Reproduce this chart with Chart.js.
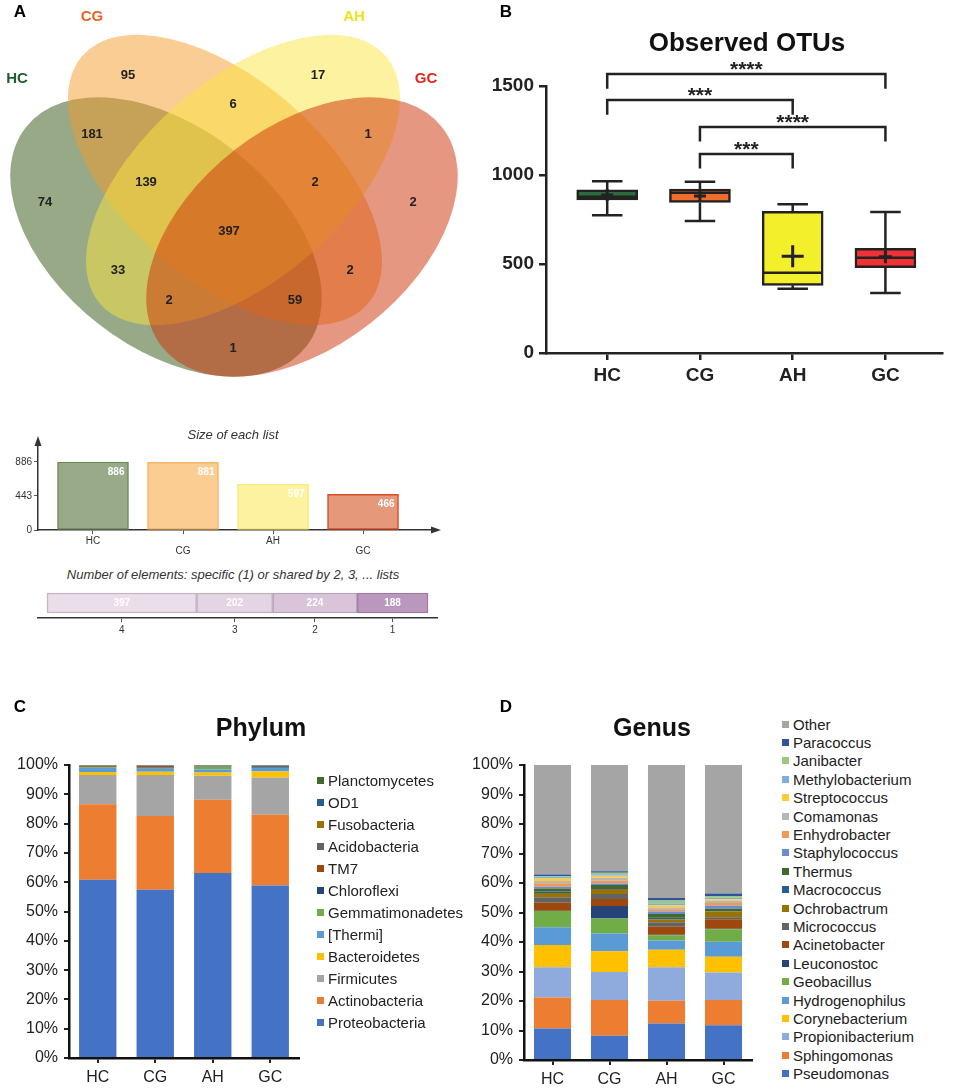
<!DOCTYPE html>
<html>
<head>
<meta charset="utf-8">
<script src="https://cdn.jsdelivr.net/npm/chart.js@4.4.0/dist/chart.umd.min.js"></script>
<style>
  body { margin: 0; background: #fff; font-family: "Liberation Sans", Arial, sans-serif; }
  #page { position: relative; width: 956px; height: 1091px; overflow: hidden; }
  canvas { position: absolute; }
  .txt { position: absolute; white-space: nowrap; transform: translate(-50%, -50%); line-height: 1; }
  .letter { font-weight: bold; font-size: 17px; color: #000; }
  .title { font-weight: bold; font-size: 25px; color: #111; }
  .sub { font-style: italic; font-size: 13px; color: #333; }
  .legend { position: absolute; font-size: 15px; color: #222; }
  .legend div { display: flex; align-items: center; white-space: nowrap; }
  .legend span { display: inline-block; width: 7px; height: 7px; margin-right: 4px; }
</style>
</head>
<body>
<div id="page">
  <canvas id="venn" width="480" height="385" style="left:0;top:0"></canvas>
  <canvas id="sizes" width="480" height="130" style="left:0;top:430px"></canvas>
  <canvas id="shared" width="480" height="55" style="left:0;top:583px"></canvas>
  <canvas id="otu" width="476" height="400" style="left:480px;top:0"></canvas>
  <canvas id="phylum" width="320" height="400" style="left:0;top:690px"></canvas>
  <canvas id="genus" width="290" height="400" style="left:470px;top:690px"></canvas>

  <div class="txt letter" style="left:20px;top:11px">A</div>
  <div class="txt letter" style="left:506px;top:11px">B</div>
  <div class="txt letter" style="left:20px;top:706px">C</div>
  <div class="txt letter" style="left:506px;top:706px">D</div>
  <div class="txt title" style="left:747px;top:42px;font-size:26px">Observed OTUs</div>
  <div class="txt title" style="left:261px;top:727px">Phylum</div>
  <div class="txt title" style="left:652px;top:727px">Genus</div>
  <div class="txt sub" style="left:233px;top:434px">Size of each list</div>
  <div class="txt sub" style="left:233px;top:574px">Number of elements: specific (1) or shared by 2, 3, ... lists</div>
  <div id="legendC" class="legend" style="left:317px;top:769px"></div>
  <div id="legendD" class="legend" style="left:782px;top:715px"></div>
</div>
<script>
// ---- data ----
const groups = ['HC', 'CG', 'AH', 'GC'];

// Venn: one count per region (membership in comments)
const vennRegions = ['CG', 'AH', 'CG&AH', 'HC&CG', 'AH&GC', 'HC&CG&AH', 'CG&AH&GC', 'HC', 'GC',
  'HC&CG&AH&GC', 'HC&AH', 'CG&GC', 'HC&AH&GC', 'HC&CG&GC', 'HC&GC'];
const vennCounts = [95, 17, 6, 181, 1, 139, 2, 74, 2, 397, 33, 2, 2, 59, 1];

const listSizes = [886, 881, 597, 466];
const sharedBy = ['4', '3', '2', '1'];
const sharedCounts = [397, 202, 224, 188];

// Observed OTUs box plot
const otuMin = [774, 742, 361, 337];
const otuQ1 = [860, 846, 380, 479];
const otuMedian = [878, 900, 451, 535];
const otuQ3 = [916, 921, 796, 588];
const otuMax = [965, 962, 835, 792];
const otuMean = [887, 882, 543, 541];
const sigPairs = [[0, 3], [0, 2], [1, 3], [1, 2]];
const sigLabels = ['****', '***', '****', '***'];
const sigLevels = [1567, 1421, 1270, 1118];

// Phylum (% per group, bottom to top)
const phyla = ['Proteobacteria', 'Actinobacteria', 'Firmicutes', 'Bacteroidetes', '[Thermi]', 'Gemmatimonadetes',
  'Chloroflexi', 'TM7', 'Acidobacteria', 'Fusobacteria', 'OD1', 'Planctomycetes'];
const phylumHC = [60.8, 25.8, 10.0, 1.0, 1.4, 0.2, 0.2, 0.3, 0.1, 0.1, 0.1, 0.0];
const phylumCG = [57.4, 25.2, 14.0, 1.1, 1.0, 0.1, 0.2, 0.2, 0.6, 0.1, 0.1, 0.0];
const phylumAH = [63.1, 25.0, 8.2, 1.1, 1.1, 0.9, 0.2, 0.1, 0.1, 0.1, 0.1, 0.0];
const phylumGC = [58.9, 24.1, 12.7, 2.1, 1.2, 0.1, 0.5, 0.1, 0.1, 0.1, 0.1, 0.0];

// Genus (% per group, bottom to top)
const genera = ['Pseudomonas', 'Sphingomonas', 'Propionibacterium', 'Corynebacterium', 'Hydrogenophilus',
  'Geobacillus', 'Leuconostoc', 'Acinetobacter', 'Micrococcus', 'Ochrobactrum', 'Macrococcus', 'Thermus',
  'Staphylococcus', 'Enhydrobacter', 'Comamonas', 'Streptococcus', 'Methylobacterium', 'Janibacter',
  'Paracoccus', 'Other'];
const genusHC = [10.7, 10.5, 10.2, 7.6, 6.0, 5.5, 0.1, 2.7, 1.9, 1.4, 0.5, 1.0, 0.6, 1.2, 0.8, 0.8, 0.6, 0.3, 0.5, 37.1];
const genusCG = [8.2, 12.1, 9.5, 7.1, 6.0, 5.1, 4.2, 2.4, 1.7, 1.7, 0.3, 1.0, 0.5, 1.0, 1.0, 0.7, 0.5, 0.5, 0.5, 36.0];
const genusAH = [12.4, 7.7, 11.3, 6.0, 3.1, 1.8, 0.2, 2.7, 1.5, 1.0, 0.5, 1.3, 0.8, 0.8, 0.6, 0.8, 0.6, 1.0, 0.8, 45.1];
const genusGC = [11.8, 8.5, 9.4, 5.3, 5.1, 4.2, 0.2, 3.2, 0.7, 1.9, 0.2, 0.8, 1.0, 0.9, 0.8, 0.5, 0.5, 0.6, 0.8, 43.6];

// ---- layout / styles ----
const vennShapes = [
  { cx: 166, cy: 237, rx: 178, ry: 110, rot: 38, color: 'rgba(49,83,17,0.5)' },
  { cx: 225, cy: 180, rx: 189, ry: 100, rot: 41, color: 'rgba(243,155,39,0.5)' },
  { cx: 243, cy: 180, rx: 189, ry: 100, rot: -41, color: 'rgba(251,229,65,0.5)' },
  { cx: 302, cy: 237, rx: 178, ry: 110, rot: -38, color: 'rgba(205,47,5,0.5)' }
];
const vennCountPos = [[128, 75], [318, 75], [233, 104], [92, 134], [368, 134], [146, 182], [315, 182], [45, 202],
  [413, 202], [229, 231], [118, 270], [350, 270], [169, 300], [295, 300], [233, 348]];
const vennSetPos = [[17, 79], [92, 17], [354, 17], [426, 79]];
const vennSetColors = ['#1d5e2a', '#f05d23', '#eee21c', '#e8231e'];

const sizeFill = ['#98aa87', '#fbcd93', '#fcf2a0', '#e6987a'];
const sizeLine = ['#6d8a5c', '#f6b466', '#f7e97a', '#dc4a24'];
const sharedFill = ['#eadeea', '#e3d5e3', '#d9c4da', '#ba97bc'];
const sharedLine = ['#c4b4c4', '#c0b0c0', '#b8a4b8', '#9c7a9e'];
const boxColors = ['#2e6b3c', '#f06d2c', '#f4ef2b', '#ee3237'];
const meanSize = [6, 6, 11, 6.5];
const BRACKET_DROP = 82;

const phylumColors = ['#4472c4', '#ed7d31', '#a5a5a5', '#ffc000', '#5b9bd5', '#70ad47', '#264478', '#9e480e',
  '#636363', '#997300', '#255e91', '#43682b'];
const genusColors = ['#4472c4', '#ed7d31', '#8faadc', '#ffc000', '#5b9bd5', '#70ad47', '#264478', '#9e480e',
  '#636363', '#997300', '#255e91', '#43682b', '#698ed0', '#f1975a', '#b7b7b7', '#ffcd33', '#7cafdd', '#9cc97f',
  '#2f5597', '#a5a5a5'];

const FONT = '"Liberation Sans", Arial, sans-serif';
Chart.defaults.font.family = FONT;

const common = {
  responsive: false,
  animation: false,
  events: [],
  plugins: { legend: { display: false }, tooltip: { enabled: false } }
};

// ---- Venn diagram ----
const vennPlugin = {
  id: 'venn',
  beforeDatasetsDraw(chart) {
    const { ctx, scales: { x, y } } = chart;
    vennShapes.forEach(s => {
      const cx = x.getPixelForValue(s.cx), cy = y.getPixelForValue(s.cy);
      const rx = Math.abs(x.getPixelForValue(s.cx + s.rx) - cx);
      const ry = Math.abs(y.getPixelForValue(s.cy + s.ry) - cy);
      ctx.save();
      ctx.fillStyle = s.color;
      ctx.beginPath();
      ctx.ellipse(cx, cy, rx, ry, s.rot * Math.PI / 180, 0, Math.PI * 2);
      ctx.fill();
      ctx.restore();
    });
  },
  afterDatasetsDraw(chart) {
    const { ctx, scales: { x, y } } = chart;
    ctx.save();
    ctx.textAlign = 'center';
    ctx.textBaseline = 'middle';
    ctx.font = 'bold 13px ' + FONT;
    ctx.fillStyle = '#222';
    chart.getDatasetMeta(0).data.forEach((pt, i) => {
      ctx.fillText(String(vennCounts[i]), pt.x, pt.y);
    });
    ctx.font = 'bold 15px ' + FONT;
    groups.forEach((g, i) => {
      ctx.fillStyle = vennSetColors[i];
      ctx.fillText(g, x.getPixelForValue(vennSetPos[i][0]), y.getPixelForValue(vennSetPos[i][1]));
    });
    ctx.restore();
  }
};

new Chart(document.getElementById('venn'), {
  type: 'scatter',
  data: { datasets: [{ data: vennCountPos.map((p, i) => ({ x: p[0], y: p[1], region: vennRegions[i] })), pointRadius: 0 }] },
  options: {
    ...common,
    layout: { padding: 0 },
    scales: {
      x: { type: 'linear', min: 0, max: 480, display: false },
      y: { type: 'linear', min: 0, max: 385, reverse: true, display: false }
    }
  },
  plugins: [vennPlugin]
});

// ---- Size of each list ----
const sizePlugin = {
  id: 'sizeLabels',
  afterDatasetsDraw(chart) {
    const { ctx, chartArea: a } = chart;
    ctx.save();
    ctx.font = 'bold 10px ' + FONT;
    ctx.fillStyle = '#fff';
    ctx.textAlign = 'right';
    ctx.textBaseline = 'middle';
    chart.getDatasetMeta(0).data.forEach((bar, i) => {
      ctx.fillText(String(listSizes[i]), bar.x + bar.width / 2 - 4, bar.y + 10);
    });
    // arrow heads
    ctx.fillStyle = '#333';
    ctx.beginPath();
    ctx.moveTo(a.left, a.top - 4); ctx.lineTo(a.left - 3.5, a.top + 6); ctx.lineTo(a.left + 3.5, a.top + 6);
    ctx.fill();
    ctx.beginPath();
    ctx.moveTo(a.right + 4, a.bottom); ctx.lineTo(a.right - 6, a.bottom - 3.5); ctx.lineTo(a.right - 6, a.bottom + 3.5);
    ctx.fill();
    ctx.restore();
  }
};

new Chart(document.getElementById('sizes'), {
  type: 'bar',
  data: {
    datasets: [{
      data: listSizes.map((v, i) => ({ x: i, y: v })),
      backgroundColor: sizeFill, borderColor: sizeLine, borderWidth: 1.5, borderSkipped: false, barThickness: 71
    }]
  },
  options: {
    ...common,
    layout: { padding: { top: 10, right: 43, left: 0, bottom: 0 } },
    scales: {
      x: {
        type: 'linear', min: -0.611, max: 3.822, offset: false,
        afterBuildTicks: s => { s.ticks = groups.map((g, i) => ({ value: i })); },
        afterFit: s => { s.height = 30; },
        ticks: { callback: v => (v % 2 ? ['', groups[v]] : groups[v]), font: { size: 10, lineHeight: 1 }, color: '#333', padding: 2, maxRotation: 0, autoSkip: false },
        grid: { display: true, drawOnChartArea: false, tickLength: 4, color: '#555', offset: false },
        border: { color: '#333', width: 1.5 }
      },
      y: {
        min: 0, max: 1172,
        afterBuildTicks: s => { const m = Math.max(...listSizes); s.ticks = [0, m / 2, m].map(v => ({ value: v })); },
        afterFit: s => { s.width = 38; },
        ticks: { callback: v => String(v), font: { size: 10 }, color: '#333', padding: 2 },
        grid: { drawOnChartArea: false, tickLength: 4, color: '#555' },
        border: { color: '#333', width: 1.5 }
      }
    }
  },
  plugins: [sizePlugin]
});

// ---- shared by n lists ----
const sharedPlugin = {
  id: 'sharedLabels',
  afterDatasetsDraw(chart) {
    const { ctx } = chart;
    ctx.save();
    ctx.font = 'bold 10px ' + FONT;
    ctx.fillStyle = '#fff';
    ctx.textAlign = 'center';
    ctx.textBaseline = 'middle';
    chart.data.datasets.forEach((ds, i) => {
      const bar = chart.getDatasetMeta(i).data[0];
      ctx.fillText(String(sharedCounts[i]), (bar.x + bar.base) / 2, bar.y);
    });
    ctx.restore();
  }
};

new Chart(document.getElementById('shared'), {
  type: 'bar',
  data: {
    labels: [''],
    datasets: sharedCounts.map((v, i) => ({
      label: sharedBy[i], data: [v], backgroundColor: sharedFill[i], borderColor: sharedLine[i],
      borderWidth: 1.5, borderSkipped: false, barThickness: 20
    }))
  },
  options: {
    ...common,
    indexAxis: 'y',
    layout: { padding: { top: 5, right: 43, left: 38, bottom: 0 } },
    scales: {
      x: {
        stacked: true, min: -23.9, max: 1034.9,
        afterBuildTicks: s => {
          let acc = 0;
          s.ticks = sharedCounts.map(v => { const c = acc + v / 2; acc += v; return { value: c }; });
        },
        afterFit: s => { s.height = 20; },
        ticks: { callback: (v, i) => sharedBy[i], font: { size: 10 }, color: '#333', padding: 2, autoSkip: false, maxRotation: 0 },
        grid: { drawOnChartArea: false, tickLength: 4, color: '#555' },
        border: { color: '#333', width: 1.5 }
      },
      y: { stacked: true, display: false }
    }
  },
  plugins: [sharedPlugin]
});

// ---- Observed OTUs ----
const boxPlugin = {
  id: 'boxExtras',
  afterDatasetDraw(chart, args) {
    const { ctx, scales: { y } } = chart;
    if (args.index === 1) {
      ctx.save();
      ctx.strokeStyle = '#222';
      ctx.lineWidth = 2.5;
      args.meta.data.forEach((bar, i) => {
        const half = bar.width / 2, cap = bar.width / 4;
        const yMax = y.getPixelForValue(otuMax[i]), yMin = y.getPixelForValue(otuMin[i]);
        const yQ3 = y.getPixelForValue(otuQ3[i]), yQ1 = y.getPixelForValue(otuQ1[i]);
        const yMed = y.getPixelForValue(otuMedian[i]);
        ctx.beginPath();
        ctx.moveTo(bar.x, yQ3); ctx.lineTo(bar.x, yMax);
        ctx.moveTo(bar.x - cap, yMax); ctx.lineTo(bar.x + cap, yMax);
        ctx.moveTo(bar.x, yQ1); ctx.lineTo(bar.x, yMin);
        ctx.moveTo(bar.x - cap, yMin); ctx.lineTo(bar.x + cap, yMin);
        ctx.moveTo(bar.x - half + 1, yMed); ctx.lineTo(bar.x + half - 1, yMed);
        ctx.stroke();
      });
      ctx.restore();
    }
  },
  afterDatasetsDraw(chart) {
    const { ctx } = chart;
    ctx.save();
    ctx.font = 'bold 21px ' + FONT;
    ctx.fillStyle = '#222';
    ctx.textAlign = 'center';
    ctx.textBaseline = 'alphabetic';
    chart.data.datasets.forEach((ds, i) => {
      if (!ds.sigLabel) return;
      const pts = chart.getDatasetMeta(i).data;
      ctx.fillText(ds.sigLabel, (pts[1].x + pts[2].x) / 2, pts[1].y + 2);
    });
    ctx.restore();
  }
};

new Chart(document.getElementById('otu'), {
  type: 'bar',
  data: {
    datasets: [
      {
        type: 'scatter', data: otuMean.map((v, i) => ({ x: i, y: v })),
        pointStyle: 'cross', pointRadius: meanSize, pointBorderColor: '#222', pointBorderWidth: 3, clip: false
      },
      {
        type: 'bar', data: groups.map((g, i) => ({ x: i, y: [otuQ1[i], otuQ3[i]] })),
        backgroundColor: boxColors, borderColor: '#222', borderWidth: 2.5, borderSkipped: false, barThickness: 61
      },
      ...sigPairs.map((p, k) => ({
        type: 'line', sigLabel: sigLabels[k],
        data: [
          { x: p[0], y: sigLevels[k] - BRACKET_DROP }, { x: p[0], y: sigLevels[k] },
          { x: p[1], y: sigLevels[k] }, { x: p[1], y: sigLevels[k] - BRACKET_DROP }
        ],
        borderColor: '#222', borderWidth: 2.5, pointRadius: 0, clip: false, tension: 0, fill: false
      }))
    ]
  },
  options: {
    ...common,
    layout: { padding: { top: 86, right: 13, left: 0, bottom: 0 } },
    scales: {
      x: {
        type: 'linear', min: -0.66, max: 3.61, offset: false,
        afterBuildTicks: s => { s.ticks = groups.map((g, i) => ({ value: i })); },
        afterFit: s => { s.height = 47; },
        ticks: { callback: v => groups[v], font: { size: 19, weight: 'bold' }, color: '#222', padding: 4, autoSkip: false, maxRotation: 0 },
        grid: { drawOnChartArea: false, tickLength: 7, color: '#222', lineWidth: 2.5, offset: false },
        border: { color: '#222', width: 2.5 }
      },
      y: {
        min: 0, max: 1500,
        afterFit: s => { s.width = 66; },
        ticks: { stepSize: 500, callback: v => String(v), font: { size: 19, weight: 'bold' }, color: '#222', padding: 5 },
        grid: { drawOnChartArea: false, tickLength: 7, color: '#222', lineWidth: 2.5 },
        border: { color: '#222', width: 2.5 }
      }
    }
  },
  plugins: [boxPlugin]
});

// ---- stacked composition charts ----
function stackedOptions(padRight, yWidth, xHeight) {
  return {
    ...common,
    layout: { padding: { top: 75, right: padRight, left: 0, bottom: 0 } },
    scales: {
      x: {
        stacked: true,
        afterFit: s => { s.height = xHeight; },
        ticks: { font: { size: 16 }, color: '#222', padding: 5 },
        grid: { offset: false, drawOnChartArea: false, tickLength: 5, color: '#222', lineWidth: 2 },
        border: { color: '#111', width: 2.5 }
      },
      y: {
        stacked: true, min: 0, max: 100,
        afterFit: s => { s.width = yWidth; },
        ticks: { stepSize: 10, callback: v => v + '%', font: { size: 16 }, color: '#222', padding: 6 },
        grid: { drawOnChartArea: false, tickLength: 5, color: '#222', lineWidth: 2 },
        border: { color: '#111', width: 2.5 }
      }
    }
  };
}

function buildLegend(chart, id, rowHeight) {
  const box = document.getElementById(id);
  chart.data.datasets.slice().reverse().forEach(ds => {
    const row = document.createElement('div');
    row.style.height = rowHeight + 'px';
    const sw = document.createElement('span');
    sw.style.background = ds.backgroundColor;
    row.appendChild(sw);
    row.appendChild(document.createTextNode(ds.label));
    box.appendChild(row);
  });
}

const phylumChart = new Chart(document.getElementById('phylum'), {
  type: 'bar',
  data: {
    labels: groups,
    datasets: phyla.map((name, i) => ({
      label: name, data: [phylumHC[i], phylumCG[i], phylumAH[i], phylumGC[i]],
      backgroundColor: phylumColors[i], barPercentage: 0.65, categoryPercentage: 1
    }))
  },
  options: stackedOptions(21, 69, 32)
});
buildLegend(phylumChart, 'legendC', 22);

const genusChart = new Chart(document.getElementById('genus'), {
  type: 'bar',
  data: {
    labels: groups,
    datasets: genera.map((name, i) => ({
      label: name, data: [genusHC[i], genusCG[i], genusAH[i], genusGC[i]],
      backgroundColor: genusColors[i], barPercentage: 0.65, categoryPercentage: 1
    }))
  },
  options: stackedOptions(8, 54, 30)
});
buildLegend(genusChart, 'legendD', 18.4);
</script>
</body>
</html>
